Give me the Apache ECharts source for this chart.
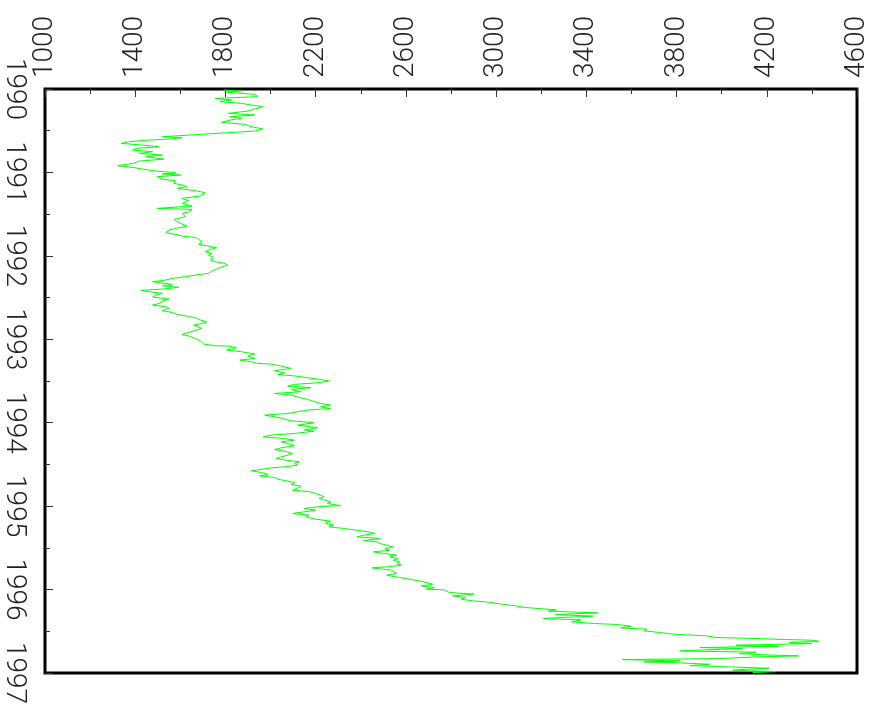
<!DOCTYPE html>
<html>
<head>
<meta charset="utf-8">
<script src="https://cdn.jsdelivr.net/npm/echarts@6/dist/echarts.min.js"></script>
<style>
html,body{margin:0;padding:0;background:#fff;}
#c{width:876px;height:709px;}
</style>
</head>
<body>
<div id="c"></div>
<script>
// Time (decimal years) and index values, by segment
var t1990 = [1990.012,1990.024,1990.040,1990.064,1990.092,1990.112,1990.132,1990.152,1990.172,1990.192,1990.212,1990.240,1990.264,1990.292,1990.312,1990.332,1990.352,1990.372,1990.400,1990.424,1990.452,1990.480,1990.504,1990.524,1990.540,1990.560,1990.572,1990.584,1990.600,1990.616,1990.632,1990.652,1990.672,1990.692,1990.712,1990.732,1990.752,1990.772,1990.792,1990.812,1990.840,1990.864,1990.892,1990.920,1990.940,1990.960];
var v1990 = [1791,1871,1805,1930,1944,1754,1827,1776,1871,1915,1966,1930,1900,1813,1930,1820,1871,1820,1784,1886,1915,1966,1930,1813,1710,1594,1520,1608,1550,1433,1374,1338,1433,1506,1403,1389,1477,1418,1520,1447,1528,1418,1389,1323,1389,1433];

var t1991 = [1990.979,1990.983,1991.003,1991.019,1991.031,1991.051,1991.083,1991.099,1991.131,1991.151,1991.171,1991.191,1991.219,1991.243,1991.259,1991.283,1991.311,1991.339,1991.371,1991.403,1991.431,1991.443,1991.471,1991.491,1991.531,1991.563,1991.591,1991.619,1991.643,1991.671,1991.691,1991.723,1991.743,1991.763,1991.779,1991.803,1991.831,1991.859,1991.883,1991.903,1991.923,1991.951,1991.971,1991.991];
var v1991 = [1433,1491,1579,1520,1601,1498,1520,1579,1572,1608,1630,1586,1667,1710,1718,1688,1608,1637,1608,1652,1498,1652,1637,1608,1623,1572,1586,1608,1630,1579,1550,1535,1579,1608,1667,1681,1696,1681,1725,1762,1732,1710,1740,1725];

var t1992 = [1992.022,1992.046,1992.070,1992.090,1992.110,1992.142,1992.182,1992.210,1992.230,1992.250,1992.270,1992.290,1992.310,1992.326,1992.342,1992.358,1992.378,1992.398,1992.414,1992.430,1992.450,1992.470,1992.494,1992.518,1992.542,1992.570,1992.590,1992.610,1992.630,1992.658,1992.678,1992.702,1992.722,1992.742,1992.762,1992.790,1992.810,1992.830,1992.850,1992.870,1992.894,1992.918,1992.942,1992.966,1992.990,1993.018];
var v1992 = [1747,1732,1754,1798,1810,1776,1740,1725,1667,1623,1564,1535,1477,1520,1564,1520,1594,1520,1425,1462,1520,1491,1477,1550,1520,1506,1477,1535,1550,1520,1564,1586,1630,1667,1681,1718,1696,1659,1652,1696,1667,1637,1608,1645,1667,1688];

var t1993 = [1993.057,1993.077,1993.081,1993.101,1993.129,1993.149,1993.177,1993.201,1993.229,1993.249,1993.269,1993.289,1993.297,1993.321,1993.349,1993.377,1993.401,1993.421,1993.441,1993.461,1993.481,1993.501,1993.521,1993.541,1993.561,1993.581,1993.601,1993.629,1993.649,1993.669,1993.697,1993.721,1993.745,1993.769,1993.789,1993.809,1993.829,1993.849,1993.869,1993.889,1993.909,1993.929,1993.949,1993.977,1994.001,1994.029];
var v1993 = [1703,1754,1813,1849,1805,1871,1930,1900,1930,1864,1915,1944,2003,2047,2091,2017,2061,2032,2112,2164,2222,2259,2208,2105,2076,2178,2091,2134,2017,2091,2127,2164,2193,2222,2266,2222,2266,2164,2120,2076,1974,2017,2054,2091,2193,2120];

var t1994 = [1994.061,1994.085,1994.101,1994.129,1994.149,1994.169,1994.189,1994.209,1994.229,1994.249,1994.277,1994.301,1994.321,1994.341,1994.369,1994.389,1994.409,1994.429,1994.449,1994.469,1994.489,1994.509,1994.529,1994.541,1994.557,1994.577,1994.597,1994.621,1994.637,1994.657,1994.677,1994.701,1994.717,1994.741,1994.761,1994.781,1994.809,1994.829,1994.849,1994.869,1994.889,1994.909,1994.929,1994.949,1994.969,1994.993];
var v1994 = [2208,2150,2193,2106,2003,1967,2062,2106,2047,2077,2106,2047,2018,2062,2098,2077,2047,2025,2069,2128,2106,2120,2062,2003,1996,1916,1960,1989,1952,2018,2033,2077,2106,2091,2135,2120,2098,2179,2201,2223,2237,2215,2245,2267,2252,2310];

var t1995 = [1995.008,1995.028,1995.048,1995.068,1995.088,1995.108,1995.128,1995.156,1995.180,1995.208,1995.228,1995.248,1995.268,1995.288,1995.308,1995.328,1995.348,1995.368,1995.388,1995.412,1995.428,1995.448,1995.468,1995.488,1995.508,1995.528,1995.548,1995.568,1995.588,1995.608,1995.628,1995.648,1995.668,1995.688,1995.708,1995.728,1995.740,1995.756,1995.768,1995.788,1995.808,1995.828,1995.840,1995.856,1995.876,1995.896,1995.916,1995.936,1995.956,1995.976,1995.996,1996.004];
var v1995 = [2208,2149,2200,2149,2098,2171,2157,2200,2266,2244,2281,2259,2325,2383,2434,2464,2412,2383,2486,2412,2471,2486,2515,2544,2507,2529,2456,2507,2559,2529,2566,2544,2573,2559,2581,2515,2449,2500,2537,2529,2559,2515,2507,2573,2617,2661,2690,2719,2668,2727,2690,2771];

var t1996a = [1996.015,1996.035,1996.055,1996.075,1996.095,1996.115,1996.135,1996.147,1996.175,1996.195,1996.215,1996.227,1996.243,1996.259,1996.279,1996.299,1996.319,1996.335,1996.347,1996.363,1996.387,1996.407,1996.419,1996.439,1996.459,1996.475,1996.495,1996.515,1996.535];
var v1996a = [2778,2793,2902,2807,2866,2844,2895,2954,3027,3085,3129,3187,3268,3231,3451,3261,3429,3290,3209,3377,3334,3436,3538,3597,3553,3670,3655,3728,3787];

var t1996b = [1996.555,1996.575,1996.583,1996.599,1996.607,1996.619,1996.635,1996.647,1996.667,1996.679,1996.695,1996.707,1996.719,1996.735,1996.751,1996.767,1996.783,1996.795,1996.807,1996.827,1996.839,1996.855,1996.867,1996.879,1996.895,1996.911,1996.927,1996.943,1996.955,1996.967,1996.983,1996.995];
var v1996b = [3933,3976,4108,4283,4400,4430,4298,4400,4064,4254,3903,4093,3962,3816,4152,4079,4196,4342,4152,3991,3560,3816,3655,3816,3947,3859,4035,4210,4108,4049,4240,4137];

var valueTicks = [1000,1400,1800,2200,2600,3000,3400,3800,4200,4600];
var yearTicks = [1990,1991,1992,1993,1994,1995,1996,1997];

var times = [].concat(t1990,t1991,t1992,t1993,t1994,t1995,t1996a,t1996b);
var vals = [].concat(v1990,v1991,v1992,v1993,v1994,v1995,v1996a,v1996b);
var pts = times.map(function(t,i){ return [vals[i], t]; });

var labelFont = {
  fontFamily: 'Roboto, "DejaVu Sans", sans-serif',
  fontWeight: 300,
  fontSize: 28,
  color: '#222'
};

var chart = echarts.init(document.getElementById('c'), null, {renderer:'canvas'});
chart.setOption({
  animation: false,
  backgroundColor: '#fff',
  grid: {left: 38, right: 19, top: 89, bottom: 36, show: true, borderColor: '#000', borderWidth: 3, backgroundColor: 'transparent'},
  xAxis: {
    type: 'value', position: 'top',
    min: valueTicks[0], max: valueTicks[valueTicks.length-1], interval: 400,
    axisLine: {show: false},
    axisTick: {show: true, inside: true, length: 8, lineStyle: {color: '#333', width: 1}},
    minorTick: {show: true, splitNumber: 2, length: 5, lineStyle: {color: '#333', width: 1}},
    splitLine: {show: false},
    axisLabel: Object.assign({rotate: -90, margin: 11, showMinLabel: true, showMaxLabel: true,
      formatter: function(v){ return String(Math.round(v)); }}, labelFont)
  },
  yAxis: {
    type: 'value', position: 'left', inverse: true,
    min: yearTicks[0], max: yearTicks[yearTicks.length-1], interval: 1,
    axisLine: {show: false},
    axisTick: {show: true, inside: true, length: 8, lineStyle: {color: '#333', width: 1}},
    minorTick: {show: true, splitNumber: 2, length: 5, lineStyle: {color: '#333', width: 1}},
    splitLine: {show: false},
    axisLabel: Object.assign({rotate: -90, margin: 17, showMinLabel: true, showMaxLabel: true,
      formatter: function(v){ return String(Math.round(v)); }}, labelFont)
  },
  series: [{
    type: 'line',
    data: pts,
    showSymbol: false,
    symbol: 'none',
    lineStyle: {color: '#00ff00', width: 1},
    silent: true
  }]
});
</script>
</body>
</html>
